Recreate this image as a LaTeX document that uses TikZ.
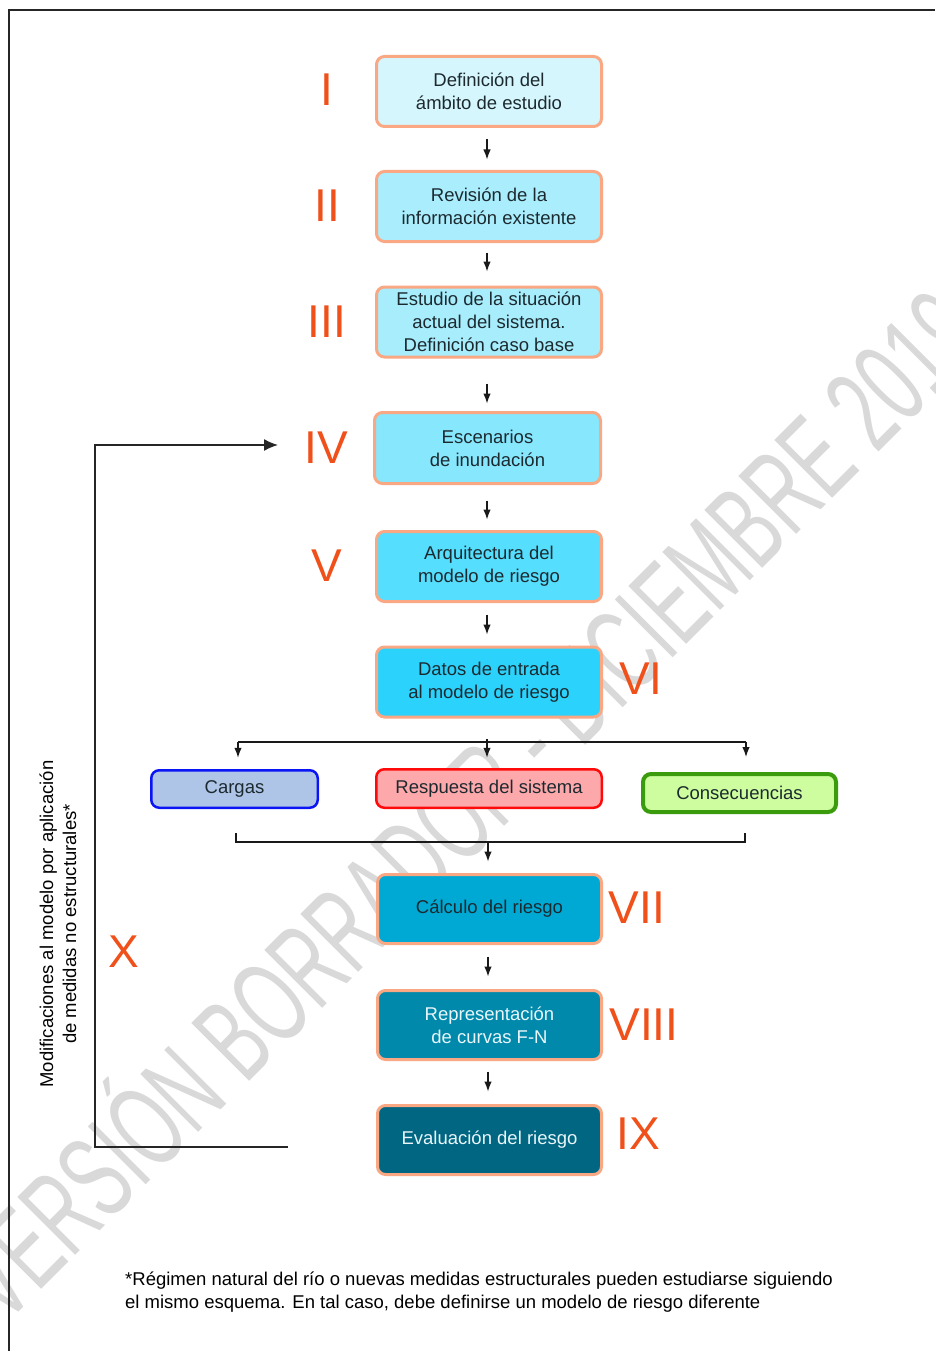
\documentclass[tikz,border=0pt]{standalone}
\usepackage{fontspec}
\setmainfont{Liberation Sans}
\usepackage{graphicx}
\usetikzlibrary{arrows.meta}
\definecolor{bdor}{HTML}{F9A883}
\definecolor{numcol}{HTML}{F0501A}
\definecolor{txtdark}{HTML}{1C2A30}
\definecolor{txtlight}{HTML}{EAF6FA}
\definecolor{wmcol}{HTML}{D9D9D9}
\definecolor{cA}{HTML}{D6F6FD}
\definecolor{cB}{HTML}{AAEEFD}
\definecolor{cC}{HTML}{A8EDFC}
\definecolor{cD}{HTML}{86E7FD}
\definecolor{cE}{HTML}{55DEFD}
\definecolor{cF}{HTML}{2BD3FC}
\definecolor{cG}{HTML}{00A9D4}
\definecolor{cH}{HTML}{0089AB}
\definecolor{cI}{HTML}{006682}
\definecolor{cargf}{HTML}{AFC5E8}
\definecolor{cargb}{HTML}{0A14F5}
\definecolor{respf}{HTML}{FDA8AA}
\definecolor{respb}{HTML}{FF0A0A}
\definecolor{consf}{HTML}{CDFD9E}
\definecolor{consb}{HTML}{3A9B0C}
\tikzset{
  fs/.style={font=\fontsize{18.5}{23}\selectfont},
  flowbox/.style={fs, draw=bdor, line width=3pt, rounded corners=8pt, align=center,
    text=txtdark, minimum width=225pt, minimum height=70pt, inner sep=0pt},
  smallbox/.style={fs, rounded corners=8pt, align=center, text=txtdark, inner sep=0pt},
  numeral/.style={text=numcol, font=\fontsize{46}{46}\selectfont, inner sep=0pt},
  plainline/.style={draw=black!90, line width=1.3pt},
  conn/.style={plainline, -{Latex[length=10pt,width=7.5pt]}},
  fbline/.style={draw=black!85, line width=1.5pt, -{Latex[length=14pt,width=12pt]}},
}
\begin{document}
\begin{tikzpicture}[x=1pt,y=-1pt]
\useasboundingbox (0,0) rectangle (935,1351);
% watermark
\node[text=wmcol, font=\fontsize{119}{119}\selectfont, anchor=base west, rotate=45, inner sep=0pt]
  (wm) at (4,1327) {\scalebox{0.6}[1]{VERSIÓN BORRADOR - DICIEMBRE 2019}};
% frame
\draw[draw=black!85, line width=1.3pt] (9,1351) -- (9,10) -- (935,10);
% main boxes
\node[flowbox, fill=cA] (n1) at (489,91.5) {Definición del\\ámbito de estudio};
\node[flowbox, fill=cB] (n2) at (489,206.5) {Revisión de la\\información existente};
\node[flowbox, fill=cC] (n3) at (489,322) {Estudio de la situación\\actual del sistema.\\Definición caso base};
\node[flowbox, fill=cD, minimum width=226pt, minimum height=71pt] (n4) at (487.5,448) {Escenarios\\de inundación};
\node[flowbox, fill=cE] (n5) at (489,566.5) {Arquitectura del\\modelo de riesgo};
\node[flowbox, fill=cF] (n6) at (489,682) {Datos de entrada\\al modelo de riesgo};
\node[smallbox, draw=cargb, fill=cargf, line width=2.5pt, minimum width=166.5pt, minimum height=37.5pt] (carg) at (234.5,789) {Cargas};
\node[smallbox, draw=respb, fill=respf, line width=2.5pt, minimum width=225.5pt, minimum height=38.5pt] (resp) at (489,788.5) {Respuesta del sistema};
\node[smallbox, draw=consb, fill=consf, line width=4pt, minimum width=193pt, minimum height=38pt] (cons) at (739.5,793) {Consecuencias};
\node[flowbox, fill=cG, minimum width=224pt, minimum height=69pt] (n7) at (489.5,909) {Cálculo del riesgo};
\node[flowbox, fill=cH, text=txtlight, minimum width=224pt, minimum height=69pt] (n8) at (489.5,1025) {Representación\\de curvas F-N};
\node[flowbox, fill=cI, text=txtlight, minimum width=224pt, minimum height=69pt] (n9) at (489.5,1140) {Evaluación del riesgo};
% numerals
\node[numeral] (r1) at (327,90) {I};
\node[numeral] (r2) at (327,206) {II};
\node[numeral] (r3) at (327,322) {III};
\node[numeral] (r4) at (326,448) {IV};
\node[numeral] (r5) at (327,566) {V};
\node[numeral] (r6) at (641,679) {VI};
\node[numeral] (r7) at (637,908) {VII};
\node[numeral] (r8) at (644,1025) {VIII};
\node[numeral] (r9) at (638,1134) {IX};
\node[numeral] (r10) at (124,952) {X};
% side label
\node[fs, rotate=90, align=center, inner sep=0pt] (mod) at (58,924) {Modificaciones al modelo por aplicación\\de medidas no estructurales*};
% footnote
\node[fs, align=left, anchor=west, inner sep=0pt] (foot) at (125,1292.5) {*Régimen natural del río o nuevas medidas estructurales pueden estudiarse siguiendo\\el mismo esquema. En tal caso, debe definirse un modelo de riesgo diferente};
% vertical connectors
\draw[conn, shorten <=11.5pt, shorten >=10.5pt] ([xshift=-2pt]n1.south) -- ([xshift=-2pt]n2.north);
\draw[conn, shorten <=9.5pt, shorten >=14pt] ([xshift=-2pt]n2.south) -- ([xshift=-2pt]n3.north);
\draw[conn, shorten <=25pt, shorten >=7.5pt] ([xshift=-2pt]n3.south) -- ([xshift=-0.5pt]n4.north);
\draw[conn, shorten <=15.5pt, shorten >=10.5pt] ([xshift=-0.5pt]n4.south) -- ([xshift=-2pt]n5.north);
\draw[conn, shorten <=11.5pt, shorten >=11pt] ([xshift=-2pt]n5.south) -- ([xshift=-2pt]n6.north);
\draw[conn, shorten <=11.5pt, shorten >=12.5pt] ([xshift=-1.5pt]n7.south) -- ([xshift=-1.5pt]n8.north);
\draw[conn, shorten <=10.5pt, shorten >=12.5pt] ([xshift=-1.5pt]n8.south) -- ([xshift=-1.5pt]n9.north);
% branching
\coordinate (b1) at (238,742);
\coordinate (b3) at (746,742);
\coordinate (bm) at (487,742);
\draw[plainline] (b1) -- (b3);
\draw[conn, shorten >=11.25pt] (b1) -- (carg.north -| b1);
\draw[conn, shorten <=20.5pt, shorten >=10.25pt] ([xshift=-2pt]n6.south) -- (resp.north -| bm);
\draw[conn, shorten >=15pt] (b3) -- (cons.north -| b3);
% junction
\coordinate (j1t) at (236,833);
\coordinate (j1) at (236,842);
\coordinate (j3) at (745,842);
\coordinate (j3t) at (745,833);
\coordinate (jm) at (488,842);
\draw[plainline] (j1t) -- (j1) -- (j3) -- (j3t);
\draw[conn, shorten >=11.5pt] (jm) -- (n7.north -| jm);
% feedback loop
\coordinate (f0) at (288,1147);
\coordinate (f1) at (95,1147);
\coordinate (f2) at (95,445);
\coordinate (f3) at (278,445);
\draw[fbline] (f0) -- (f1) -- (f2) -- (f3);
\end{tikzpicture}
\end{document}
